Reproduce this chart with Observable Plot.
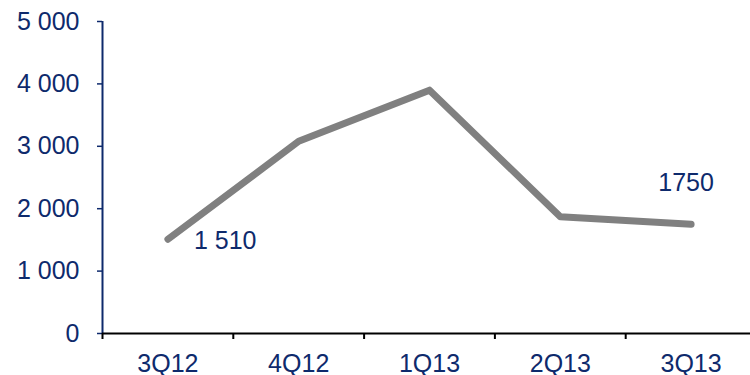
<!DOCTYPE html>
<html>
<head>
<meta charset="utf-8">
<script src="https://cdn.jsdelivr.net/npm/d3@7"></script>
<script src="https://cdn.jsdelivr.net/npm/@observablehq/plot@0.6"></script>
<style>
  html, body { margin: 0; padding: 0; background: #ffffff; overflow: hidden; }
  #chart { width: 750px; height: 375px; }
</style>
</head>
<body>
<div id="chart"></div>
<script>
// Quarterly series
const quarters = ["3Q12", "4Q12", "1Q13", "2Q13", "3Q13"];
const volume = [1510, 3080, 3900, 1870, 1750];
// Data labels shown next to selected points (null = no label)
const pointLabels = ["1 510", null, null, null, "1750"];
// Value axis ticks
const yTicks = [0, 1000, 2000, 3000, 4000, 5000];

const navy = "#0e2a6c";
const table = quarters.map((q, i) => ({i, q, v: volume[i], label: pointLabels[i]}));
const fmt = d => d3.format(",")(d).replace(/,/g, " ");

const chart = Plot.plot({
  width: 750,
  height: 375,
  marginLeft: 102,
  marginRight: 0,
  marginTop: 21,
  marginBottom: 42,
  style: {fontFamily: "'Liberation Sans', Arial, sans-serif", fontSize: "25px", background: "#ffffff", overflow: "visible"},
  x: {type: "linear", domain: [-0.5, quarters.length - 0.5], range: [102, 756]},
  y: {domain: [0, 5000]},
  marks: [
    // value axis
    Plot.axisY({ticks: yTicks, tickFormat: fmt, tickSize: 5, tickPadding: 18, color: navy, strokeWidth: 1.5, label: null}),
    Plot.ruleX([-0.5], {y1: 0, y2: 5000, stroke: navy, strokeWidth: 2}),
    // category axis: ticks on band boundaries, labels in band centres
    Plot.axisX({ticks: table.map(d => d.i - 0.5), tickFormat: () => "", tickSize: 6, stroke: "#000", strokeWidth: 2, label: null}),
    Plot.axisX({ticks: table.map(d => d.i), tickFormat: i => quarters[i], tickSize: 0, tickPadding: 21, color: navy, label: null}),
    Plot.ruleY([0], {stroke: "#000", strokeWidth: 2}),
    // series line
    Plot.line(table, {x: "i", y: "v", stroke: "#808080", strokeWidth: 7, strokeLinecap: "round", strokeLinejoin: "round"}),
    // data labels
    Plot.text(table.filter(d => d.i === 0), {x: "i", y: "v", text: "label", textAnchor: "start", dx: 26, dy: 2, fill: navy}),
    Plot.text(table.filter(d => d.i === quarters.length - 1), {x: "i", y: "v", text: "label", textAnchor: "middle", dx: -5, dy: -41, fill: navy})
  ]
});
document.getElementById("chart").appendChild(chart);
</script>
</body>
</html>
